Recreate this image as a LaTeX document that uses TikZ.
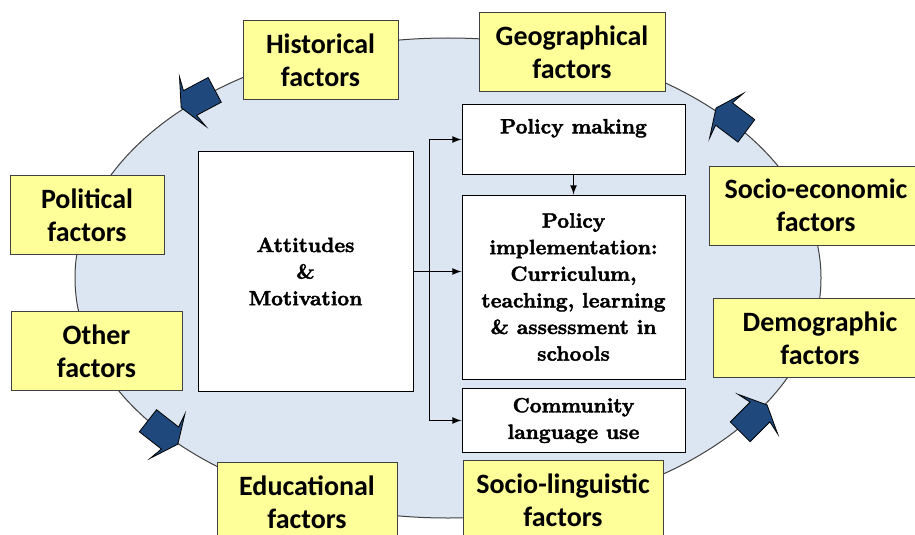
\documentclass[tikz,border=0pt]{standalone}
\usepackage{fontspec}
\usetikzlibrary{positioning}
\newfontfamily\factorfont{Carlito}
\newfontfamily\blockfont{Latin Modern Roman}[BoldFeatures={FakeBold=2}]

\definecolor{ringfill}{HTML}{DCE6F2}
\definecolor{factorfill}{HTML}{FFFF99}
\definecolor{turnfill}{HTML}{1F497D}

\tikzstyle{ring} = [draw=black!75, fill=ringfill, line width=0.5pt]
\tikzstyle{factor} = [rectangle, draw=black!75, fill=factorfill, line width=0.5pt,
    align=center, inner sep=0pt, minimum height=39.5pt,
    font=\factorfont\bfseries\fontsize{14}{16.5}\selectfont]
\tikzstyle{block} = [rectangle, draw, fill=white, line width=0.5pt,
    align=center, inner sep=0pt, minimum width=111.5pt,
    font=\blockfont\bfseries\fontsize{10.3}{13.3}\selectfont]
\tikzstyle{line} = [draw, -latex, line width=0.6pt]
\tikzstyle{turn} = [draw=black, fill=turnfill, line width=0.4pt]

% short fat block arrow, #1 = where it sits, #2 = heading
\newcommand{\turnarrow}[2]{%
    \path [turn, shift={#1}, rotate=#2]
        (-28,-14) -- (0,-14) -- (-3,-28) -- (10,0) -- (-3,28) -- (0,14) -- (-28,14) -- cycle;}

\begin{document}
\begin{tikzpicture}[x=0.5pt, y=-0.5pt]
    \clip (0,0) rectangle (915,535);

    \path [ring] (448,278) ellipse [x radius=186.5pt, y radius=120pt];

    \turnarrow{(190,103)}{208}
    \turnarrow{(724,114)}{143}
    \turnarrow{(170,438)}{-38}
    \turnarrow{(760,412)}{45}

    % centre column
    \node [block, minimum width=107.5pt, minimum height=120pt] (attitudes) at (305.5,271.5) {Attitudes\\\&\\Motivation};
    \node [block, minimum height=34.5pt] (making) at (573.5,139.5) {Policy making\\\mbox{}};
    \node [block, minimum height=92pt, below=10pt of making] (implementation) {Policy\\implementation:\\Curriculum,\\teaching, learning\\\& assessment in\\schools};
    \node [block, minimum height=32pt, below=4.25pt of implementation] (community) {Community\\language use};

    \coordinate [right=8pt of attitudes.east] (bus);
    \path [line] (attitudes.east) -- (attitudes.east -| implementation.west);
    \path [line] (bus) |- (making.west);
    \path [line] (bus) |- (community.west);
    \path [line] (making) -- (implementation);

    % factors round the ring
    \node [factor, minimum width=77.5pt] (historical) at (320.5,60.5) {Historical\\factors};
    \node [factor, minimum width=93pt] (geographical) at (572,52) {Geographical\\factors};
    \node [factor, minimum width=77pt] (political) at (87,215) {Political\\factors};
    \node [factor, minimum width=85.5pt] (other) at (96.5,351) {Other\\factors};
    \node [factor, minimum width=107pt] (socioeconomic) at (816,205.5) {Socio-economic\\factors};
    \node [factor, minimum width=107pt] (demographic) at (820,338) {Demographic\\factors};
    \node [factor, minimum width=90pt] (educational) at (307,502) {Educational\\factors};
    \node [factor, minimum width=100pt] (sociolinguistic) at (563,500) {Socio-linguistic\\factors};
\end{tikzpicture}
\end{document}
